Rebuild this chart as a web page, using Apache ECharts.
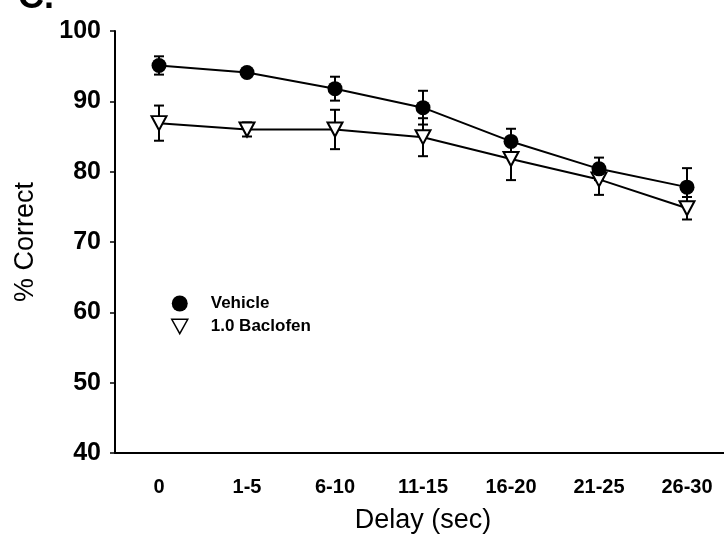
<!DOCTYPE html>
<html>
<head>
<meta charset="utf-8">
<script src="https://cdn.jsdelivr.net/npm/echarts@6/dist/echarts.min.js"></script>
<style>
  html, body { margin: 0; padding: 0; background: #fff; }
  #delay_chart { width: 724px; height: 539px; }
</style>
</head>
<body>
<div id="delay_chart"></div>
<script>
  // values
  var delays = ['0', '1-5', '6-10', '11-15', '16-20', '21-25', '26-30'];
  var vehicleMean = [95.1, 94.1, 91.8, 89.1, 84.3, 80.4, 77.8];
  var vehicleErr = [1.3, 0.6, 1.7, 2.4, 1.8, 1.6, 2.7];
  var baclofenMean = [86.9, 86.0, 86.0, 84.9, 81.8, 78.9, 74.8];
  var baclofenErr = [2.5, 1.0, 2.8, 2.7, 3.0, 2.2, 1.6];
  var yTicks = [40, 50, 60, 70, 80, 90, 100];

  var triDown = 'path://M0,0 L10,0 L5,9 Z';

  function errData(mean, err) {
    return mean.map(function (m, i) { return [i, m - err[i], m + err[i]]; });
  }

  function renderErr(params, api) {
    var lo = api.coord([api.value(0), api.value(1)]);
    var hi = api.coord([api.value(0), api.value(2)]);
    var cap = 5;
    var st = { stroke: '#000', lineWidth: 2 };
    return {
      type: 'group',
      children: [
        { type: 'line', shape: { x1: lo[0], y1: lo[1], x2: hi[0], y2: hi[1] }, style: st },
        { type: 'line', shape: { x1: lo[0] - cap, y1: lo[1], x2: lo[0] + cap, y2: lo[1] }, style: st },
        { type: 'line', shape: { x1: hi[0] - cap, y1: hi[1], x2: hi[0] + cap, y2: hi[1] }, style: st }
      ]
    };
  }

  var myChart = echarts.init(document.getElementById('delay_chart'));
  var option = {
    backgroundColor: '#fff',
    animation: false,
    textStyle: { fontFamily: 'Liberation Sans', color: '#000' },
    grid: { left: 115, top: 31, width: 616, height: 422, containLabel: false, outerBoundsMode: 'none' },
    legend: {
      orient: 'vertical',
      left: 166,
      top: 290,
      itemGap: 6,
      itemWidth: 16,
      itemHeight: 16,
      textStyle: { fontSize: 17, fontWeight: 'bold', color: '#000', padding: [0, 0, 0, 18] },
      data: [
        { name: 'Vehicle', icon: 'circle', itemStyle: { color: '#000', borderWidth: 0 } },
        { name: '1.0 Baclofen', icon: triDown, itemStyle: { color: '#fff', borderColor: '#000', borderWidth: 1.5 } }
      ]
    },
    graphic: [
      { type: 'text', left: 18, top: -20, style: { text: 'C.', font: 'bold 36px Liberation Sans', fill: '#000' } }
    ],
    xAxis: {
      type: 'category',
      data: delays,
      boundaryGap: true,
      name: 'Delay (sec)',
      nameLocation: 'middle',
      nameGap: 54,
      nameTextStyle: { fontSize: 27, color: '#000' },
      axisLine: { lineStyle: { color: '#000', width: 2 } },
      axisTick: { alignWithLabel: true, length: 5, lineStyle: { color: '#000', width: 1.5 } },
      axisLabel: { fontSize: 20, fontWeight: 'bold', color: '#000', margin: 24 },
      splitLine: { show: false }
    },
    yAxis: {
      type: 'value',
      min: yTicks[0],
      max: yTicks[yTicks.length - 1],
      interval: 10,
      name: '% Correct',
      nameLocation: 'middle',
      nameGap: 76,
      nameTextStyle: { fontSize: 27, color: '#000' },
      axisLine: { show: true, lineStyle: { color: '#000', width: 2 } },
      axisTick: { show: true, length: 5, lineStyle: { color: '#000', width: 1.5 } },
      axisLabel: { fontSize: 25, fontWeight: 'bold', color: '#000', margin: 14 },
      splitLine: { show: false }
    },
    series: [
      {
        type: 'custom',
        name: 'vehicleErr',
        renderItem: renderErr,
        data: errData(vehicleMean, vehicleErr),
        z: 1
      },
      {
        type: 'custom',
        name: 'baclofenErr',
        renderItem: renderErr,
        data: errData(baclofenMean, baclofenErr),
        z: 1
      },
      {
        name: 'Vehicle',
        type: 'line',
        data: vehicleMean,
        symbol: 'circle',
        symbolSize: 15,
        lineStyle: { color: '#000', width: 2 },
        itemStyle: { color: '#000', borderWidth: 0 },
        z: 3
      },
      {
        name: '1.0 Baclofen',
        type: 'line',
        data: baclofenMean,
        symbol: triDown,
        symbolSize: [15, 14],
        lineStyle: { color: '#000', width: 2 },
        itemStyle: { color: '#fff', borderColor: '#000', borderWidth: 2 },
        z: 2
      }
    ]
  };
  myChart.setOption(option);
</script>
</body>
</html>
